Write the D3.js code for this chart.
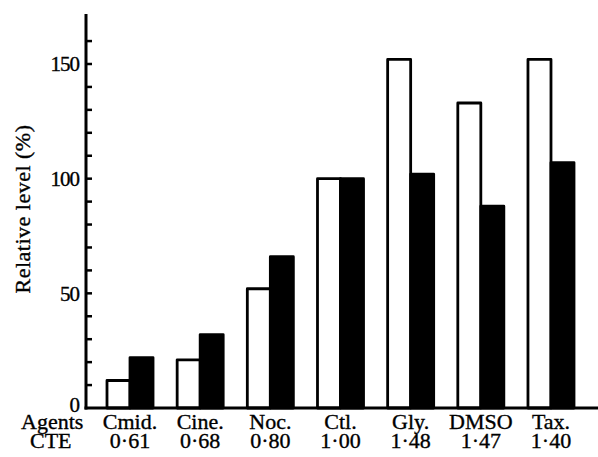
<!DOCTYPE html>
<html>
<head>
<meta charset="utf-8">
<script src="https://cdn.jsdelivr.net/npm/d3@7"></script>
<style>
  html, body { margin: 0; padding: 0; background: #fff; }
  svg { display: block; font-family: "Liberation Serif", "DejaVu Serif", serif; }
  svg text { stroke: #000; stroke-width: 0.35px; }
</style>
</head>
<body>
<div id="chart"></div>
<script>
const agents = ["Cmid.", "Cine.", "Noc.", "Ctl.", "Gly.", "DMSO", "Tax."];
const cte = ["0·61", "0·68", "0·80", "1·00", "1·48", "1·47", "1·40"];
const openValues = [12, 21, 52, 100, 152, 133, 152];
const solidValues = [22, 32, 66, 100, 102, 88, 107];
const series = ["open", "solid"];
const yTicks = [0, 50, 100, 150];
const yMinorTicks = d3.range(0, 170, 10);

const width = 598;
const height = 457;
const axisX = 86;
const baseY = 408;

const rows = agents.map((a, i) => ({ agent: a, cte: cte[i], open: openValues[i], solid: solidValues[i] }));

const svg = d3.select("#chart")
  .append("svg")
  .attr("width", width)
  .attr("height", height);

const x = d3.scaleBand()
  .domain(agents)
  .range([107, 574])
  .paddingInner(0.344)
  .paddingOuter(0);

const xs = d3.scaleBand()
  .domain(series)
  .range([0, x.bandwidth()])
  .padding(0);

const y = d3.scaleLinear()
  .domain([0, 150])
  .range([baseY, 64]);

// bars
const groups = svg.append("g")
  .selectAll("g")
  .data(rows)
  .join("g")
  .attr("transform", (d) => `translate(${x(d.agent)},0)`);

groups.selectAll("rect")
  .data((d) => series.map((s) => ({ key: s, value: d[s] })))
  .join("rect")
  .attr("x", (d) => xs(d.key))
  .attr("y", (d) => y(d.value))
  .attr("width", xs.bandwidth())
  .attr("height", (d) => baseY - y(d.value))
  .attr("fill", (d) => d.key === "open" ? "#fff" : "#000")
  .attr("stroke", "#000")
  .attr("stroke-width", 2.8)
  .attr("stroke-linejoin", "round");

// y axis
const yAxis = svg.append("g");
yAxis.append("line")
  .attr("x1", axisX).attr("x2", axisX)
  .attr("y1", 14).attr("y2", baseY + 1.5)
  .attr("stroke", "#000")
  .attr("stroke-width", 3);

yAxis.selectAll(".tick")
  .data(yMinorTicks.filter((t) => t > 0))
  .join("line")
  .attr("x1", axisX).attr("x2", axisX + 6)
  .attr("y1", (d) => y(d)).attr("y2", (d) => y(d))
  .attr("stroke", "#000")
  .attr("stroke-width", 2.5);

yAxis.selectAll("text")
  .data(yTicks)
  .join("text")
  .attr("x", 79)
  .attr("y", (d) => d === 0 ? y(d) - 3 : y(d))
  .attr("dy", "0.35em")
  .attr("text-anchor", "end")
  .attr("font-size", 21)
  .attr("letter-spacing", -1)
  .text((d) => d);

// x baseline
svg.append("line")
  .attr("x1", axisX - 1.5).attr("x2", 598)
  .attr("y1", baseY).attr("y2", baseY)
  .attr("stroke", "#000")
  .attr("stroke-width", 3);

// y label
svg.append("text")
  .attr("transform", `translate(30,209) rotate(-90)`)
  .attr("text-anchor", "middle")
  .attr("font-size", 22)
  .attr("letter-spacing", 0.5)
  .text("Relative level (%)");

// row labels
svg.append("text")
  .attr("x", 21).attr("y", 429)
  .attr("font-size", 22)
  .text("Agents");

svg.append("text")
  .attr("x", 30).attr("y", 448)
  .attr("font-size", 22)
  .text("CTE");

svg.append("g")
  .selectAll("text")
  .data(rows)
  .join("text")
  .attr("x", (d) => x(d.agent) + x.bandwidth() / 2)
  .attr("y", 429)
  .attr("text-anchor", "middle")
  .attr("font-size", 22)
  .text((d) => d.agent);

svg.append("g")
  .selectAll("text")
  .data(rows)
  .join("text")
  .attr("x", (d) => x(d.agent) + x.bandwidth() / 2)
  .attr("y", 448)
  .attr("text-anchor", "middle")
  .attr("font-size", 22)
  .text((d) => d.cte);
</script>
</body>
</html>
